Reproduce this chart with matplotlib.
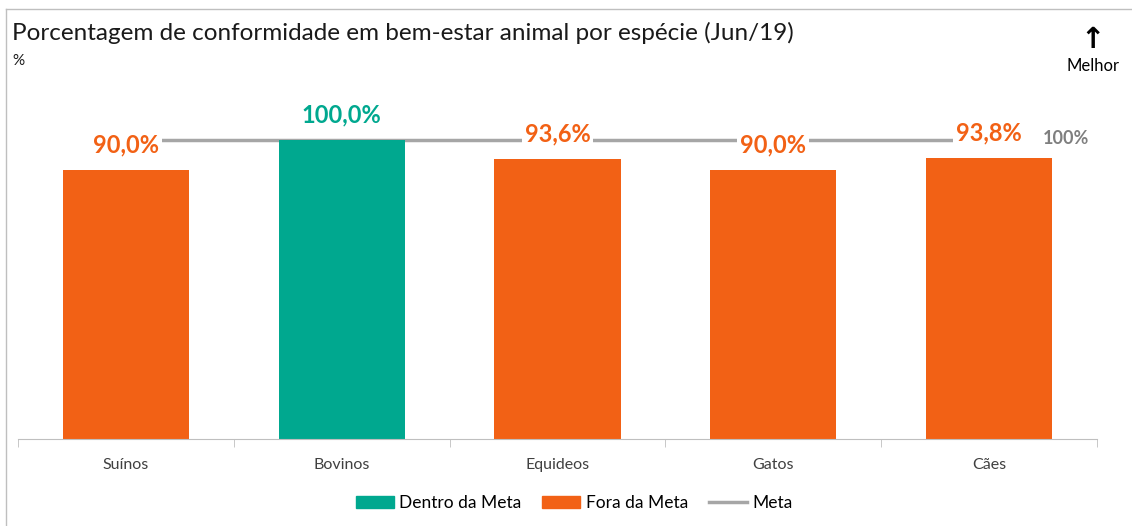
import matplotlib.pyplot as plt
from matplotlib.patches import Patch
from matplotlib.lines import Line2D

plt.rcParams['font.family'] = ['Lato', 'DejaVu Sans']

# dados
especies = ['Suínos', 'Bovinos', 'Equideos', 'Gatos', 'Cães']
valores = [90.0, 100.0, 93.6, 90.0, 93.8]
meta = [100, 100, 100, 100, 100]
rotulos = ['90,0%', '100,0%', '93,6%', '90,0%', '93,8%']

verde = '#00A88F'
laranja = '#F26115'
cinza = '#A6A6A6'

cores = [verde if v >= m else laranja for v, m in zip(valores, meta)]

fig = plt.figure(figsize=(11.32, 5.26), dpi=100)
ax = fig.add_axes([18/1132, 1 - 439/526, (1097-18)/1132, 329/526])

x = list(range(len(especies)))
ax.bar(x, valores, width=0.585, color=cores, zorder=2)
ax.plot(x, meta, color=cinza, lw=2.5, zorder=1)

# rótulos de dados com fundo branco (cortam a linha da meta)
for i, (v, r, c) in enumerate(zip(valores, rotulos, cores)):
    ax.text(i, v + 4.6, r, ha='center', va='bottom', color=c, fontsize=17,
            fontweight='bold', zorder=3,
            bbox=dict(facecolor='white', edgecolor='none', pad=2))
ax.text(len(especies) - 1 + 0.25, meta[-1] + 0.5, '100%', ha='left', va='center',
        color='#7F7F7F', fontsize=13, fontweight='bold', zorder=3)

ax.set_xlim(-0.5, len(especies) - 0.5)
ax.set_ylim(0, 110)
ax.set_yticks([])
for s in ['top', 'right', 'left']:
    ax.spines[s].set_visible(False)
ax.spines['bottom'].set_color('#BFBFBF')
ax.set_xticks(x)
ax.set_xticklabels(especies, fontsize=11.5, color='#404040')
ax.tick_params(axis='x', length=0, pad=14)
ax.set_xticks([i - 0.5 for i in range(len(especies) + 1)], minor=True)
ax.tick_params(axis='x', which='minor', length=6, color='#BFBFBF')

# moldura
fig.add_artist(Line2D([6/1132, 6/1132], [0, 1 - 9/526], color='#BFBFBF', lw=1))
fig.add_artist(Line2D([6/1132, 1], [1 - 9/526, 1 - 9/526], color='#BFBFBF', lw=1))

fig.text(12/1132, 1 - 33/526, 'Porcentagem de conformidade em bem-estar animal por espécie (Jun/19)',
         fontsize=17.5, va='center', ha='left', color='#1a1a1a')
fig.text(12/1132, 1 - 61/526, '%', fontsize=11, va='center', ha='left', color='#1a1a1a')
fig.text(1093/1132, 1 - 40/526, '↑', fontsize=21, va='center', ha='center',
         fontweight='bold', family='DejaVu Sans')
fig.text(1093/1132, 1 - 66/526, 'Melhor', fontsize=12, va='center', ha='center')

handles = [Patch(color=verde, label='Dentro da Meta'),
           Patch(color=laranja, label='Fora da Meta'),
           Line2D([], [], color=cinza, lw=2.5, label='Meta')]
fig.legend(handles=handles, loc='center', bbox_to_anchor=(574/1132, 1 - 503/526),
           ncol=3, frameon=False, fontsize=12.5, handlelength=2.2,
           handletextpad=0.3, columnspacing=1.2)

fig.savefig('out.png', dpi=100)
